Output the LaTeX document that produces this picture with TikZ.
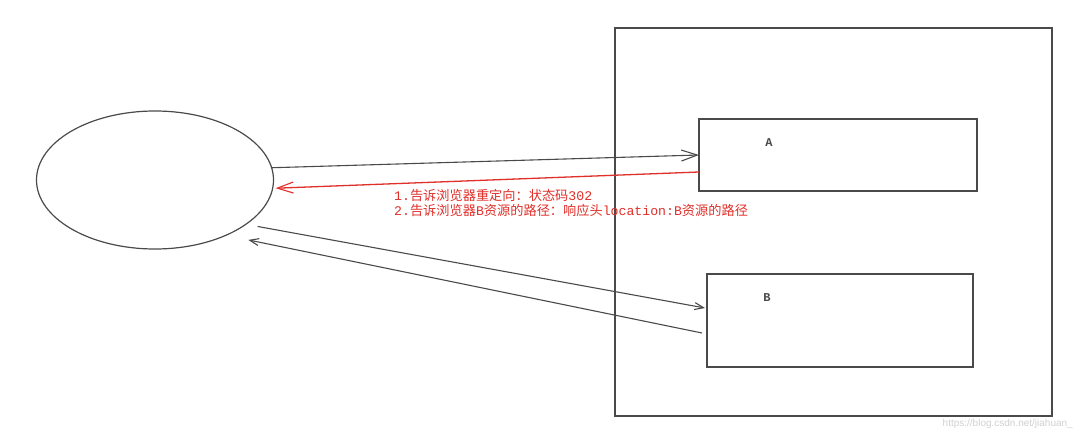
\documentclass[tikz,border=0pt]{standalone}
\usepackage{fontspec}
\newfontfamily\cjk{Noto Sans CJK SC}
\newfontfamily\monof{Liberation Mono}
\newfontfamily\wmfont{Liberation Sans}
\usetikzlibrary{shapes.geometric,arrows.meta}
\definecolor{ink}{HTML}{4A4A4A}
\definecolor{redink}{HTML}{E0302A}
\tikzset{
  line/.style={draw=ink, line width=1.1pt},
  box/.style={draw=ink, line width=1.2pt, inner sep=0pt, outer sep=0pt},
  bigbarb/.style={-{Straight Barb[length=16pt,width=11pt,line width=1.1pt]}},
  smallbarb/.style={-{Straight Barb[length=9pt,width=7pt,line width=1.1pt]}},
  redtxt/.style={text=redink, anchor=west, inner sep=0pt, font=\fontsize{13.2}{15}\selectfont},
  boxlabel/.style={font=\monof\bfseries\fontsize{12}{14}\selectfont, text=ink, inner sep=0pt}
}
\newcommand{\zh}[1]{{\cjk #1}}
\newcommand{\la}[1]{{\monof #1}}
\begin{document}
\begin{tikzpicture}[x=1pt,y=-1pt]
\useasboundingbox[fill=white] (0,0) rectangle (1080,436);
% client ellipse
\node[ellipse, box, minimum width=237pt, minimum height=138pt] (client) at (155,180) {};
% server frame
\node[box, minimum width=437pt, minimum height=388pt] (server) at (833.5,222) {};
% resources
\node[box, minimum width=278pt, minimum height=72pt] (A) at (838,155) {};
\node[box, minimum width=266pt, minimum height=93pt] (B) at (840,320.5) {};
\node[boxlabel] (la) at (769,143) {A};
\node[boxlabel] (lb) at (767,298) {B};
% connectors
\draw[line, bigbarb] (client.6) -- (A.west);
\draw[draw=redink, line width=1.3pt, bigbarb] ([yshift=-17pt]A.west) -- ([xshift=3pt]client.-4);
\draw[line, smallbarb, shorten <=12pt] (client.-26.5) -- ([yshift=12.5pt,xshift=-2pt]B.west);
\draw[line, smallbarb, shorten >=23pt] ([yshift=-12.5pt,xshift=-5pt]B.west) -- (client.-38);
% red labels
\node[redtxt] (t1) at (394,195) {\la{1.}\zh{告诉浏览器重定向：状态码}\la{302}};
\node[redtxt] (t2) at (394,210) {\la{2.}\zh{告诉浏览器}\la{B}\zh{资源的路径：响应头}\la{location:B}\zh{资源的路径}};
% watermark
\node[anchor=east, inner sep=0pt, text=black!18, font=\wmfont\fontsize{10}{12}\selectfont] (wm) at (1073,424) {https://blog.csdn.net/jiahuan\_};
\end{tikzpicture}
\end{document}
